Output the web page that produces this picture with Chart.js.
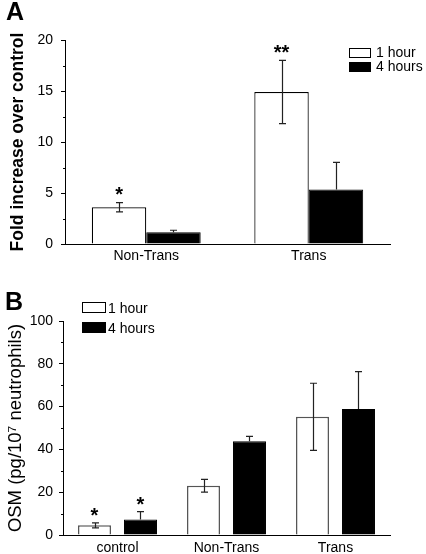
<!DOCTYPE html>
<html><head><meta charset="utf-8">
<script src="https://cdn.jsdelivr.net/npm/chart.js@4"></script>
<style>
html,body{margin:0;padding:0;background:#fff;}
#wrap{position:relative;width:426px;height:554px;overflow:hidden;font-family:"Liberation Sans",Arial,sans-serif;}
.box{position:absolute;left:0;width:426px;}
#boxA{top:0;height:280px;}
#boxB{top:280px;height:274px;}
.panel{position:absolute;font-weight:bold;font-size:25px;line-height:1;color:#000;}
</style></head>
<body><div id="wrap">
<div class="box" id="boxA"><canvas id="chartA"></canvas></div>
<div class="box" id="boxB"><canvas id="chartB"></canvas></div>
<div class="panel" style="left:6px;top:-1px">A</div>
<div class="panel" style="left:5px;top:289px">B</div>
</div>
<script>
// ---- data ----
const seriesNames = ['1 hour', '4 hours'];

const catsA = ['Non-Trans', 'Trans'];
const a1h = [3.6, 14.9];
const a1hErr = [0.45, 3.1];
const a4h = [1.15, 5.35];
const a4hErr = [0.2, 2.65];
const starsA1h = ['*', '**'];
const starsA4h = ['', ''];
const ticksA = [0, 5, 10, 15, 20];
const minorA = [2.5, 7.5, 12.5, 17.5];

const catsB = ['control', 'Non-Trans', 'Trans'];
const b1h = [4.5, 23.0, 55.2];
const b1hErr = [1.2, 3.0, 15.7];
const b4h = [7.3, 43.8, 58.9];
const b4hErr = [3.6, 2.3, 17.4];
const starsB1h = ['*', '', ''];
const starsB4h = ['*', '', ''];
const ticksB = [0, 20, 40, 60, 80, 100];
const minorB = [10, 30, 50, 70, 90];

const FONT = '"Liberation Sans", Arial, sans-serif';

const extrasPlugin = {
  id: 'extras',
  afterDraw(chart, args, o) {
    const ctx = chart.ctx;
    const ys = chart.scales.y;
    const area = chart.chartArea;
    ctx.save();
    // minor ticks
    ctx.strokeStyle = o.axisColor;
    ctx.lineWidth = 1;
    o.minor.forEach(v => {
      const y = Math.round(ys.getPixelForValue(v)) + 0.5;
      ctx.beginPath();
      ctx.moveTo(area.left - 2, y);
      ctx.lineTo(area.left, y);
      ctx.stroke();
    });
    // error bars + stars
    chart.data.datasets.forEach((ds, i) => {
      const meta = chart.getDatasetMeta(i);
      const dark = ds.backgroundColor === '#000000';
      meta.data.forEach((el, j) => {
        const v = ds.data[j], e = o.errors[i][j];
        const x = Math.round(el.x) + 0.5;
        const yHi = ys.getPixelForValue(v + e);
        const yLo = dark ? ys.getPixelForValue(v) : ys.getPixelForValue(v - e);
        ctx.strokeStyle = '#222';
        ctx.lineWidth = 1.2;
        ctx.beginPath();
        ctx.moveTo(x, yHi); ctx.lineTo(x, yLo);
        ctx.moveTo(x - 3.5, yHi); ctx.lineTo(x + 3.5, yHi);
        if (!dark) { ctx.moveTo(x - 3.5, yLo); ctx.lineTo(x + 3.5, yLo); }
        ctx.stroke();
        const s = o.stars[i][j];
        if (s) {
          ctx.fillStyle = '#000';
          ctx.font = 'bold 20px ' + FONT;
          ctx.textAlign = 'center';
          ctx.textBaseline = 'alphabetic';
          const cy = yHi - o.starGap;
          ctx.fillText(s, el.x, cy + 0.57 * 20);
        }
      });
    });
    // legend
    const L = o.legend;
    chart.data.datasets.forEach((ds, i) => {
      const by = L.y + i * L.rowGap;
      ctx.fillStyle = ds.backgroundColor;
      ctx.fillRect(L.x, by, L.w, L.h);
      ctx.strokeStyle = '#000';
      ctx.lineWidth = 1;
      ctx.strokeRect(L.x + 0.5, by + 0.5, L.w - 1, L.h - 1);
      ctx.fillStyle = '#000';
      ctx.font = '14px ' + FONT;
      ctx.textAlign = 'left';
      ctx.textBaseline = 'middle';
      ctx.fillText(ds.label, L.textX, by + L.h / 2 + L.textDy);
    });
    ctx.restore();
  }
};

function makeChart(id, cfg) {
  return new Chart(document.getElementById(id), {
    type: 'bar',
    data: {
      labels: cfg.cats,
      datasets: [
        { label: seriesNames[0], data: cfg.d1, backgroundColor: '#ffffff', borderColor: cfg.whiteBorder, borderWidth: cfg.whiteBorderW,
          borderSkipped: 'bottom', categoryPercentage: cfg.catPct, barPercentage: cfg.barPct },
        { label: seriesNames[1], data: cfg.d2, backgroundColor: '#000000', borderColor: '#000000', borderWidth: 1,
          borderSkipped: 'bottom', categoryPercentage: cfg.catPct, barPercentage: cfg.barPct }
      ]
    },
    options: {
      responsive: true,
      maintainAspectRatio: false,
      animation: false,
      events: [],
      layout: { padding: { top: cfg.padTop, right: cfg.padRight, left: 0, bottom: 0 } },
      plugins: {
        legend: { display: false },
        tooltip: { enabled: false },
        extras: {
          errors: cfg.errors, stars: cfg.stars, minor: cfg.minor, starGap: cfg.starGap,
          axisColor: '#000', legend: cfg.legend
        }
      },
      scales: {
        x: {
          offset: true,
          grid: { display: false, drawTicks: false },
          border: { display: true, color: '#000', width: 1, z: 1 },
          ticks: { color: '#000', font: { family: FONT, size: 14 }, padding: cfg.xPad, maxRotation: 0, autoSkip: false },
          afterFit: s => { s.height = cfg.xHeight; }
        },
        y: {
          min: 0, max: cfg.max,
          afterBuildTicks: s => { s.ticks = cfg.ticks.map(v => ({ value: v })); },
          grid: { display: true, drawOnChartArea: false, drawTicks: true, tickLength: 4, color: '#000', lineWidth: 1 },
          border: { display: true, color: '#000', width: 1, z: 1 },
          ticks: { color: '#000', font: { family: FONT, size: 14 }, padding: cfg.yPad },
          title: { display: true, text: cfg.title, color: '#000',
                   font: { family: FONT, size: cfg.titleSize, weight: cfg.titleWeight }, padding: { top: cfg.titlePad, bottom: 0 } },
          afterFit: s => { s.width = cfg.yWidth; }
        }
      }
    },
    plugins: [extrasPlugin]
  });
}

makeChart('chartA', {
  cats: catsA, d1: a1h, d2: a4h, errors: [a1hErr, a4hErr], stars: [starsA1h, starsA4h],
  ticks: ticksA, minor: minorA, max: 20,
  whiteBorder: '#000', whiteBorderW: 1.2,
  catPct: 0.67, barPct: 1.0,
  padTop: 40, padRight: 36, xHeight: 36, yWidth: 65, xPad: 4, yPad: 8,
  title: 'Fold increase over control', titleWeight: 'bold', titleSize: 17.5, titlePad: 8,
  starGap: 13,
  legend: { x: 349, y: 48, w: 22, h: 10, rowGap: 14, textX: 376, textDy: 0.5 }
});

makeChart('chartB', {
  cats: catsB, d1: b1h, d2: b4h, errors: [b1hErr, b4hErr], stars: [starsB1h, starsB4h],
  ticks: ticksB, minor: minorB, max: 100,
  whiteBorder: '#555', whiteBorderW: 1.5,
  catPct: 0.844, barPct: 0.717,
  padTop: 41, padRight: 36, xHeight: 19, yWidth: 63, xPad: 5, yPad: 6,
  title: 'OSM (pg/10\u2077 neutrophils)', titleWeight: 'normal', titleSize: 18.5, titlePad: 5,
  starGap: 12,
  legend: { x: 82, y: 22, w: 24, h: 11, rowGap: 20, textX: 108, textDy: 1.5 }
});
</script>
</body></html>
